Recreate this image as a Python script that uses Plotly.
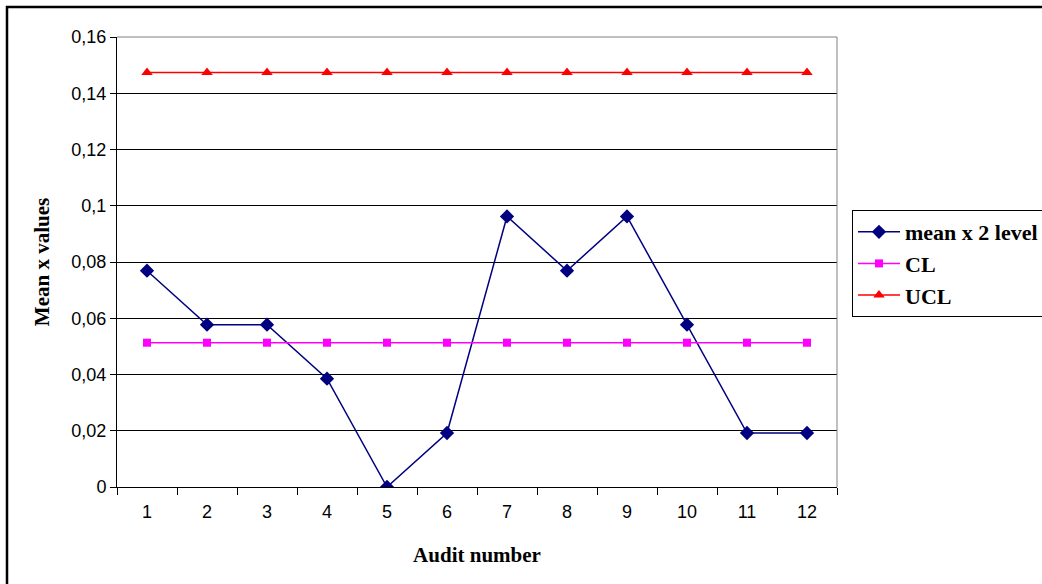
import plotly.graph_objects as go

# Audit control chart data
audits = [str(i) for i in range(1, 13)]
mean_x = [0.0769, 0.0577, 0.0577, 0.0385, 0.0, 0.0192,
          0.0962, 0.0769, 0.0962, 0.0577, 0.0192, 0.0192]
cl = [0.0513] * 12
ucl = [0.1474] * 12

W, H = 1042, 584
L, R, T, B = 117, 837, 37, 487  # plot area in pixels


def px_x(p):
    return (p - L) / (R - L)


def px_y(p):
    return (B - p) / (B - T)


fig = go.Figure()
fig.add_trace(go.Scatter(
    x=audits, y=mean_x, name="<b>mean x 2 level</b>", mode="lines+markers",
    line=dict(color="#000080", width=1.5),
    marker=dict(symbol="diamond", size=11, color="#000080"),
    legendgroup="a"))
fig.add_trace(go.Scatter(
    x=audits, y=cl, name="<b>CL</b>", mode="lines+markers",
    line=dict(color="#FF00FF", width=1.5),
    marker=dict(symbol="square", size=8, color="#FF00FF"),
    legendgroup="b"))
fig.add_trace(go.Scatter(
    x=audits, y=ucl, name="<b>UCL</b>", mode="lines+markers",
    line=dict(color="#FF0000", width=1.5),
    marker=dict(symbol="triangle-up", size=10, color="#FF0000"),
    legendgroup="c"))

fig.update_layout(
    width=W, height=H,
    margin=dict(l=L, r=W - R, t=T, b=H - B, pad=0, autoexpand=False),
    paper_bgcolor="white", plot_bgcolor="white",
    font=dict(family="Liberation Sans, Arial", size=18, color="black"),
    legend=dict(
        x=px_x(852), y=px_y(210), xanchor="left", yanchor="top",
        bordercolor="black", borderwidth=1, bgcolor="white",
        font=dict(family="Liberation Serif, Times New Roman", size=22, color="black"),
        tracegroupgap=7, traceorder="normal", itemwidth=42,
    ),
    showlegend=True,
)

fig.update_xaxes(
    type="category", tickson="boundaries", range=[-0.5, 11.5],
    showgrid=False, showline=True, linecolor="black", linewidth=1,
    ticks="outside", ticklen=7, tickcolor="black", ticklabelstandoff=8,
    title=dict(text="<b>Audit number</b>", standoff=26,
               font=dict(family="Liberation Serif, Times New Roman", size=21)),
)
fig.update_yaxes(
    range=[0, 0.16], tickvals=[0, 0.02, 0.04, 0.06, 0.08, 0.1, 0.12, 0.14, 0.16],
    ticktext=["0", "0,02", "0,04", "0,06", "0,08", "0,1", "0,12", "0,14", "0,16"],
    showgrid=True, gridcolor="black", gridwidth=1, zeroline=False,
    showline=True, linecolor="black", linewidth=1,
    ticks="outside", ticklen=6, tickcolor="black",
    title=dict(text="<b>Mean x values</b>", standoff=16,
               font=dict(family="Liberation Serif, Times New Roman", size=21)),
)

# Chart frame, plot-area top/right edges
fig.add_shape(type="rect", xref="paper", yref="paper",
              x0=px_x(7), x1=px_x(1060), y0=px_y(7), y1=px_y(600),
              line=dict(color="black", width=2.5), layer="below")
fig.add_shape(type="line", xref="paper", yref="paper",
              x0=0, x1=1, y0=1, y1=1, line=dict(color="#808080", width=1))
fig.add_shape(type="line", xref="paper", yref="paper",
              x0=1, x1=1, y0=0, y1=1, line=dict(color="#808080", width=1))

fig.write_html("out.html")
